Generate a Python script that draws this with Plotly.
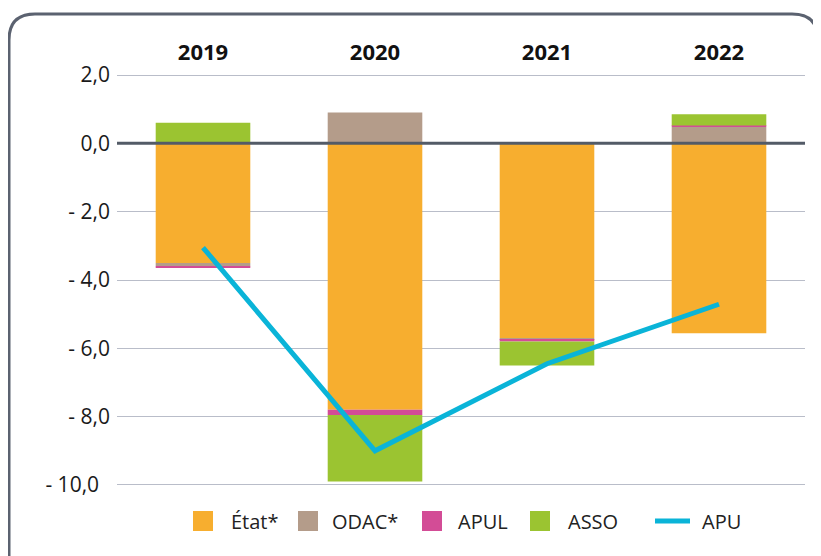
import plotly.graph_objects as go

years = ["2019", "2020", "2021", "2022"]
etat = [-3.5, -7.8, -5.7, -5.56]
odac = [-0.1, 0.9, -0.05, 0.48]
apul = [-0.05, -0.15, -0.05, 0.04]
asso = [0.6, -1.95, -0.7, 0.33]
apu = [-3.05, -9.0, -6.45, -4.71]

series_names = ["État*", "ODAC*", "APUL", "ASSO"]
series_colors = ["#f7ae2f", "#b49c8a", "#d34c96", "#9bc431"]
line_name = "APU"
line_color = "#0ab4d8"

y_tickvals = [2, 0, -2, -4, -6, -8, -10]
y_ticktext = ["2,0", "0,0", "- 2,0", "- 4,0", "- 6,0", "- 8,0", "- 10,0\u00a0\u00a0"]

# page body has an 8px margin; screen coords are shifted by OFF
OFF = 8
W, H = 821, 556
L, R, T, B = 117 - OFF, 805 - OFF, 74 - OFF, 486 - OFF


def px(x):
    return (x - OFF - L) / (R - L)


def py(y):
    return (B - (y - OFF)) / (B - T)


FONT = "Open Sans"
fig = go.Figure()
for name, vals, col in zip(series_names, [etat, odac, apul, asso], series_colors):
    fig.add_trace(go.Bar(x=years, y=vals, name=name, marker=dict(color=col, line=dict(width=0)),
                         showlegend=False))
fig.add_trace(go.Scatter(x=years, y=apu, mode="lines", name=line_name,
                         line=dict(color=line_color, width=5), showlegend=False))

shapes = []
# zero line above bars
shapes.append(dict(type="line", xref="paper", yref="y", x0=0, x1=1, y0=0, y1=0,
                   line=dict(color="#535b67", width=3), layer="above"))
# rounded border
r = 26
bx0, by0, bx1, byb = 9, 14, 818, 640
path = (f"M {px(bx0)},{py(byb)} L {px(bx0)},{py(by0 + r)} "
        f"Q {px(bx0)},{py(by0)} {px(bx0 + r)},{py(by0)} "
        f"L {px(bx1 - r)},{py(by0)} "
        f"Q {px(bx1)},{py(by0)} {px(bx1)},{py(by0 + r)} "
        f"L {px(bx1)},{py(byb)}")
shapes.append(dict(type="path", xref="paper", yref="paper", path=path,
                   line=dict(color="#5b6270", width=3)))

# manual legend
annotations = []
ly = 521
sq = 20
sq_x = [193, 298, 422, 530]
txt_x = [229, 330, 456, 566]
for name, col, sx, tx in zip(series_names, series_colors, sq_x, txt_x):
    shapes.append(dict(type="rect", xref="paper", yref="paper",
                       x0=px(sx), x1=px(sx + sq), y0=py(ly - sq / 2), y1=py(ly + sq / 2),
                       fillcolor=col, line=dict(width=0)))
    annotations.append(dict(xref="paper", yref="paper", x=px(tx), y=py(ly), text=name,
                            showarrow=False, xanchor="left", yanchor="middle",
                            font=dict(family=FONT, size=20, color="#222222")))
shapes.append(dict(type="line", xref="paper", yref="paper", x0=px(655), x1=px(690),
                   y0=py(ly), y1=py(ly), line=dict(color=line_color, width=5)))
annotations.append(dict(xref="paper", yref="paper", x=px(700), y=py(ly), text=line_name,
                        showarrow=False, xanchor="left", yanchor="middle",
                        font=dict(family=FONT, size=20, color="#222222")))

fig.update_layout(
    width=W, height=H,
    margin=dict(l=L, r=W - R, t=T, b=H - B, pad=0),
    barmode="relative", bargap=0.45,
    plot_bgcolor="white", paper_bgcolor="white",
    shapes=shapes, annotations=annotations,
    font=dict(family=FONT, color="#1a1a1a"),
)
fig.update_xaxes(side="top", showgrid=False, showline=False, zeroline=False, ticks="",
                 tickfont=dict(family=FONT, size=22, color="#111111", weight="bold"),
                 ticklabelstandoff=9)
fig.update_yaxes(range=[-10.03, 2.03], tickvals=y_tickvals, ticktext=y_ticktext,
                 showgrid=True, gridcolor="#b9bdc9", gridwidth=1, zeroline=False,
                 showline=False, ticks="", ticklabelstandoff=6,
                 tickfont=dict(family=FONT, size=21, color="#1a1a1a"))

fig.write_html("out.html")
